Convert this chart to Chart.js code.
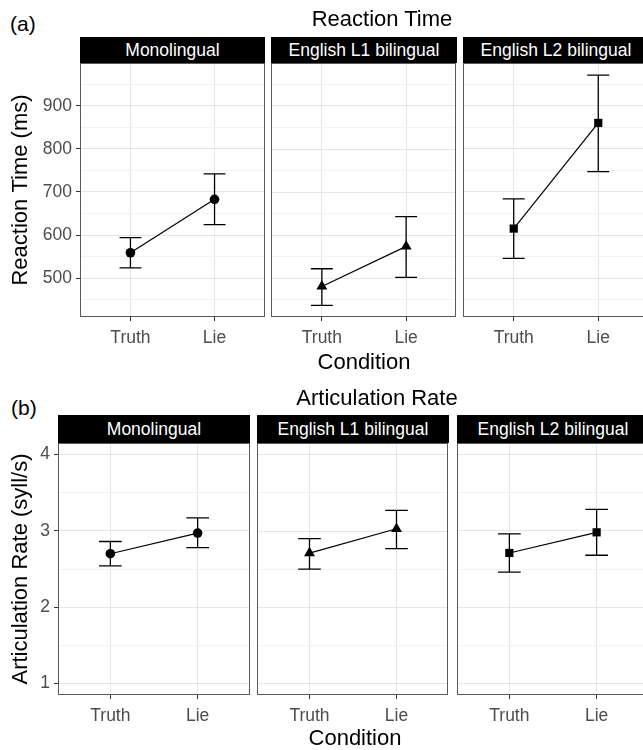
<!DOCTYPE html>
<html><head><meta charset="utf-8">
<script src="https://cdn.jsdelivr.net/npm/chart.js@4.4.1/dist/chart.umd.min.js"></script>
<style>
html,body{margin:0;padding:0;background:#fff;width:643px;height:750px;overflow:hidden;position:relative;font-family:"Liberation Sans",Arial,sans-serif;}
.t{position:absolute;white-space:nowrap;color:#000;line-height:1;transform:translate(-50%,-50%);}
.lab{position:absolute;white-space:nowrap;color:#000;line-height:1;transform:translateY(-50%);}
.strip{position:absolute;background:#000;color:#fff;font-size:17.5px;display:flex;align-items:center;justify-content:center;white-space:nowrap;overflow:hidden;}
canvas{position:absolute;}
</style></head><body>
<script>
// ---- data ----
const groups = ['Monolingual', 'English L1 bilingual', 'English L2 bilingual'];
const conditions = ['Truth', 'Lie'];
const shapes = ['circle', 'triangle', 'rect'];

// Reaction time (ms): [Truth, Lie] per group
const rtMean  = [[559, 683], [481, 574], [615, 860]];
const rtLower = [[524, 624], [437, 502], [546, 747]];
const rtUpper = [[594, 742], [522, 643], [684, 971]];
const rtTicks = [450, 500, 550, 600, 650, 700, 750, 800, 850, 900, 950];

// Articulation rate (syll/s)
const arMean  = [[2.70, 2.97], [2.71, 3.03], [2.71, 2.98]];
const arLower = [[2.54, 2.78], [2.50, 2.77], [2.46, 2.68]];
const arUpper = [[2.86, 3.17], [2.90, 3.27], [2.96, 3.28]];
const arTicks = [1, 1.5, 2, 2.5, 3, 3.5, 4];

// ---- drawing ----
const FAM = '"Liberation Sans", Arial, sans-serif';
Chart.defaults.font.family = FAM;

const errorBars = {
  id: 'errorBars',
  beforeDatasetsDraw(chart) {
    const ds = chart.data.datasets[0];
    const xs = chart.scales.x, ys = chart.scales.y, ctx = chart.ctx;
    ctx.save();
    ctx.strokeStyle = '#000';
    ctx.lineWidth = 1.3;
    ds.data.forEach((p, i) => {
      const x = xs.getPixelForValue(p.x);
      const xl = xs.getPixelForValue(p.x - 0.13), xr = xs.getPixelForValue(p.x + 0.13);
      const yl = ys.getPixelForValue(ds.lo[i]), yh = ys.getPixelForValue(ds.hi[i]);
      ctx.beginPath();
      ctx.moveTo(x, yl); ctx.lineTo(x, yh);
      ctx.moveTo(xl, yl); ctx.lineTo(xr, yl);
      ctx.moveTo(xl, yh); ctx.lineTo(xr, yh);
      ctx.stroke();
    });
    ctx.restore();
  }
};
const panelBorder = {
  id: 'panelBorder',
  afterDatasetsDraw(chart) {
    const a = chart.chartArea, ctx = chart.ctx;
    ctx.save();
    ctx.strokeStyle = '#5a5a5a';
    ctx.lineWidth = 1;
    ctx.strokeRect(Math.round(a.left) + 0.5, Math.round(a.top) + 0.5,
                   Math.round(a.right - a.left) - 1, Math.round(a.bottom - a.top) - 1);
    ctx.restore();
  }
};

function addDiv(cls, html, left, top, size, extra) {
  const d = document.createElement('div');
  d.className = cls; d.textContent = html;
  d.style.left = left + 'px'; d.style.top = top + 'px';
  d.style.fontSize = size + 'px';
  if (extra) Object.assign(d.style, extra);
  document.body.appendChild(d);
  return d;
}

function zeroPad(sc) {
  sc.paddingTop = 0; sc.paddingBottom = 0; sc.paddingLeft = 0; sc.paddingRight = 0;
}

function makeFacet(o) {
  const showY = o.j === 0;
  const PAD = 6, XH = 40;
  const cLeft = showY ? 0 : o.L - PAD;
  const cTop = o.T - PAD;
  const w = o.R + PAD - cLeft;
  const h = o.B - cTop + XH;
  const c = document.createElement('canvas');
  c.width = w; c.height = h;
  c.style.left = cLeft + 'px'; c.style.top = cTop + 'px';
  c.style.width = w + 'px'; c.style.height = h + 'px';
  document.body.appendChild(c);

  // strip
  const s = document.createElement('div');
  s.className = 'strip'; s.textContent = groups[o.j];
  s.style.left = o.L + 'px'; s.style.top = o.stripTop + 'px';
  s.style.width = (o.R - o.L) + 'px'; s.style.height = (o.T - o.stripTop) + 'px';
  document.body.appendChild(s);

  const isMajor = v => Math.abs(v / o.major - Math.round(v / o.major)) < 1e-9;
  const radius = [4.8, 6.3, 5.8][o.j];

  new Chart(c, {
    type: 'scatter',
    data: {
      datasets: [{
        data: o.mean.map((v, i) => ({x: i + 1, y: v})),
        lo: o.lo, hi: o.hi,
        showLine: true,
        borderColor: '#000', borderWidth: 1.2,
        backgroundColor: '#000',
        pointStyle: shapes[o.j], pointRadius: radius, pointHoverRadius: radius,
        pointBorderWidth: 0
      }]
    },
    options: {
      responsive: false, animation: false, devicePixelRatio: 1, events: [],
      layout: {padding: {top: PAD, right: PAD, left: showY ? 0 : PAD, bottom: 0}},
      plugins: {legend: {display: false}, tooltip: {enabled: false}},
      scales: {
        x: {
          type: 'linear', min: 0.4, max: 2.6,
          afterBuildTicks: sc => { sc.ticks = conditions.map((_, i) => ({value: i + 1})); },
          afterFit: sc => { sc.height = XH; zeroPad(sc); },
          ticks: {
            callback: v => conditions[Math.round(v) - 1] || '',
            color: '#4d4d4d', font: {size: 17.5, family: FAM},
            padding: 7, maxRotation: 0, autoSkip: false
          },
          grid: {color: '#e6e6e6', lineWidth: 1, tickLength: 4, tickColor: '#333', drawTicks: true},
          border: {display: false}
        },
        y: {
          type: 'linear', min: o.yMin, max: o.yMax,
          afterBuildTicks: sc => { sc.ticks = o.ticks.map(v => ({value: v})); },
          afterFit: sc => { sc.width = showY ? o.L : 0; zeroPad(sc); },
          ticks: {
            display: showY,
            callback: v => isMajor(v) ? String(v) : '',
            color: '#4d4d4d', font: {size: 17.5, family: FAM}, padding: 4, autoSkip: false
          },
          grid: {
            color: ctx => isMajor(ctx.tick.value) ? '#e6e6e6' : '#f2f2f2',
            lineWidth: 1,
            drawTicks: showY, tickLength: 4,
            tickColor: ctx => isMajor(ctx.tick.value) ? '#333' : 'rgba(0,0,0,0)'
          },
          border: {display: false},
          title: {
            display: showY, text: o.yTitle, color: '#000',
            font: {size: 22, family: FAM}, padding: {top: 8, bottom: 0}
          }
        }
      }
    },
    plugins: [errorBars, panelBorder]
  });
}

// Panel (a)
const aFacets = [[80, 265], [271, 457], [463, 649]];
aFacets.forEach((f, j) => makeFacet({
  j, L: f[0], R: f[1], T: 63, B: 317, stripTop: 37,
  yMin: 410, yMax: 999, ticks: rtTicks, major: 100,
  mean: rtMean[j], lo: rtLower[j], hi: rtUpper[j], yTitle: 'Reaction Time (ms)'
}));
// Panel (b)
const bFacets = [[58, 250], [257, 449], [457, 649]];
bFacets.forEach((f, j) => makeFacet({
  j, L: f[0], R: f[1], T: 443, B: 695, stripTop: 415,
  yMin: 0.85, yMax: 4.15, ticks: arTicks, major: 1,
  mean: arMean[j], lo: arLower[j], hi: arUpper[j], yTitle: 'Articulation Rate (syll/s)'
}));

addDiv('lab', '(a)', 10, 23, 21);
addDiv('t', 'Reaction Time', 382, 19, 22);
addDiv('t', 'Condition', 364, 362, 22);
addDiv('lab', '(b)', 11, 407, 21);
addDiv('t', 'Articulation Rate', 377, 398, 22);
addDiv('t', 'Condition', 355, 738, 22);
</script>
</body></html>
